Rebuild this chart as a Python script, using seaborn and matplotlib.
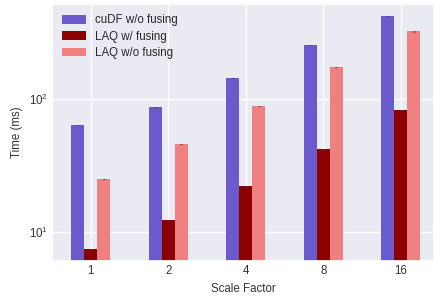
import matplotlib
matplotlib.use("Agg")
import matplotlib.pyplot as plt
import seaborn as sns
import pandas as pd
import numpy as np

scale_factors = ["1", "2", "4", "8", "16"]
series_names = ["cuDF w/o fusing", "LAQ w/ fusing", "LAQ w/o fusing"]
cudf_nofuse = [63.8, 87.0, 144.0, 255.0, 421.0]
laq_fuse = [7.45, 12.3, 22.2, 42.0, 82.7]
laq_nofuse = [25.0, 45.9, 88.6, 174.0, 324.0]
cudf_err = [0.3, 0.8, 0.5, 0.8, 1.0]
laq_fuse_err = [0.03, 0.05, 0.05, 0.1, 0.2]
laq_nofuse_err = [0.1, 0.2, 0.3, 0.5, 2.5]
colors = ["#6A5ACD", "#8B0000", "#F08080"]

values = [cudf_nofuse, laq_fuse, laq_nofuse]
errs = [cudf_err, laq_fuse_err, laq_nofuse_err]
rows = []
for name, vals in zip(series_names, values):
    for sf, v in zip(scale_factors, vals):
        rows.append({"Scale Factor": sf, "Time (ms)": v, "series": name})
df = pd.DataFrame(rows)

sns.set_theme(style="darkgrid")
plt.rcParams["font.family"] = ["Liberation Sans", "DejaVu Sans"]
plt.rcParams["mathtext.fontset"] = "custom"
plt.rcParams["mathtext.rm"] = "Liberation Sans"

FS = 8.3
fig = plt.figure(figsize=(4.35, 2.96), dpi=100)
ax = fig.add_axes([52/435, 1 - 261/296, (434-52)/435, (261-4)/296])
sns.barplot(data=df, x="Scale Factor", y="Time (ms)", hue="series",
            order=scale_factors, hue_order=series_names, palette=colors,
            width=0.5, gap=0, errorbar=None, saturation=1, linewidth=0, ax=ax)
ax.set_yscale("log")

for container, err in zip(ax.containers, errs):
    xs = [p.get_x() + p.get_width() / 2 for p in container.patches]
    ys = [p.get_y() + p.get_height() for p in container.patches]
    ax.errorbar(xs, ys, yerr=err, fmt="none", ecolor="#444444", elinewidth=0.5, capsize=1.0, capthick=0.5)

ax.set_ylim(6.05, 518)
ax.set_xlim(-0.5, 4.43)
ax.set_xlabel("Scale Factor", fontsize=FS, color="#333333")
ax.set_ylabel("Time (ms)", fontsize=FS, color="#333333")
ax.tick_params(axis="both", labelsize=FS, colors="#333333", length=0, pad=3)
ax.grid(True, which="major", color="white", linewidth=1)
ax.grid(False, which="minor")
ax.set_axisbelow(True)
ax.legend(loc="upper left", frameon=False, fontsize=FS, handlelength=2.08, handleheight=0.78,
          handletextpad=0.78, bbox_to_anchor=(0.0, 1.0), borderaxespad=0.5, labelspacing=0.38)
fig.savefig("out.png", dpi=100)
